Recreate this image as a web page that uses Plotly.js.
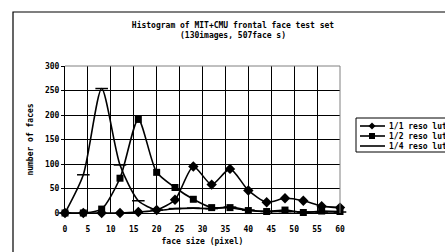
<!DOCTYPE html>
<html><head><meta charset="utf-8">
<script src="https://cdn.plot.ly/plotly-3.0.1.min.js"></script>
<style>html,body{margin:0;padding:0;background:#fff}#c{width:445px;height:252px}</style>
</head><body><div id="c"></div>
<script>
const faceSize = [0,4,8,12,16,20,24,28,32,36,40,44,48,52,56,60];
const res11 = [0,0,0,0,2,6,27,95,58,90,46,22,30,25,14,11];
const res12 = [0,0,8,71,191,83,52,28,11,11,5,3,6,1,4,3];
const res14 = [0,78,254,98,25,6,9,10,9,12,6,3,3,2,2,2];
const seriesNames = ["1/1 reso lution","1/2 reso lution","1/4 reso lution"];
const xTicks = [0,5,10,15,20,25,30,35,40,45,50,55,60];
const yTicks = [0,50,100,150,200,250,300];

const F = "'DejaVu Sans Mono', monospace";
const line = {color:'#000', width:1.6, shape:'spline', smoothing:0.7};
const traces = [
  {x:faceSize, y:res11, name:seriesNames[0], mode:'lines+markers', line:line, cliponaxis:false,
   marker:{symbol:'diamond', size:8, color:'#000'}},
  {x:faceSize, y:res12, name:seriesNames[1], mode:'lines+markers', line:line, cliponaxis:false,
   marker:{symbol:'square', size:7, color:'#000'}},
  {x:faceSize, y:res14, name:seriesNames[2], mode:'lines+markers', line:line, cliponaxis:false,
   marker:{symbol:'line-ew', size:9, color:'#000', line:{color:'#000', width:1.5}}}
];
const pl = 65, pr = 340, pt = 66, pb = 213;
const W = pr-pl, H = pb-pt;
const px = v => (v-pl)/W, py = v => (pb-v)/H;

const shapes = [
  {type:'rect', xref:'paper', yref:'paper', x0:px(13), x1:px(470), y0:py(270), y1:py(12),
   line:{color:'#000', width:1.2}, fillcolor:'rgba(0,0,0,0)', layer:'below'},
  {type:'rect', xref:'paper', yref:'paper', x0:px(356), x1:px(470), y0:py(152), y1:py(118),
   line:{color:'#000', width:1}, fillcolor:'#fff', layer:'above'}
];
const annotations = [];
const legY = [126, 136, 146];
legY.forEach((yy, i) => {
  shapes.push({type:'line', xref:'paper', yref:'paper', x0:px(360), x1:px(385), y0:py(yy), y1:py(yy),
    line:{color:'#000', width:1.6}, layer:'above'});
  if (i === 0) {
    shapes.push({type:'path', xref:'paper', yref:'paper',
      path:`M ${px(372)} ${py(yy-3.5)} L ${px(375.5)} ${py(yy)} L ${px(372)} ${py(yy+3.5)} L ${px(368.5)} ${py(yy)} Z`,
      fillcolor:'#000', line:{color:'#000', width:0}, layer:'above'});
  } else if (i === 1) {
    shapes.push({type:'rect', xref:'paper', yref:'paper', x0:px(369), x1:px(375), y0:py(yy+3), y1:py(yy-3),
      fillcolor:'#000', line:{color:'#000', width:0}, layer:'above'});
  }
  annotations.push({xref:'paper', yref:'paper', x:px(387), y:py(yy), xanchor:'left', yanchor:'middle',
    text:seriesNames[i], showarrow:false, font:{family:F, size:8, color:'#000', weight:'bold'}});
});

const layout = {
  width:445, height:252,
  margin:{l:pl, r:445-pr, t:pt, b:252-pb, pad:0},
  paper_bgcolor:'#fff', plot_bgcolor:'#fff',
  font:{family:F, size:8, color:'#000', weight:'bold'},
  showlegend:false,
  title:{text:'Histogram of MIT+CMU frontal face test set<br>(130images, 507face s)',
    font:{family:F, size:8, color:'#000', weight:'bold'}, x:233/445, xanchor:'center', y:1-28/252, yanchor:'middle'},
  xaxis:{range:[0,60], tickvals:xTicks, ticktext:xTicks.map(String),
    showgrid:true, gridcolor:'#000', gridwidth:1, zeroline:false,
    showline:true, linecolor:'#000', mirror:false, ticks:'', ticklen:0, ticklabelstandoff:8,
    tickfont:{family:F, size:8, weight:'bold'}, title:{text:'face size (pixel)', font:{family:F, size:8, weight:'bold'}, standoff:5}},
  yaxis:{range:[0,300], tickvals:yTicks, showgrid:true, gridcolor:'#000', gridwidth:1, zeroline:false,
    showline:true, linecolor:'#000', mirror:false, ticks:'outside', ticklen:3, tickcolor:'#000',
    tickfont:{family:F, size:8, weight:'bold'}, title:{text:'number of faces', font:{family:F, size:8, weight:'bold'}, standoff:10}},
  shapes:shapes.concat([
    {type:'line', xref:'paper', yref:'paper', x0:0, x1:1, y0:1, y1:1, line:{color:'#808080', width:1}},
    {type:'line', xref:'paper', yref:'paper', x0:1, x1:1, y0:0, y1:1, line:{color:'#808080', width:1}}
  ]),
  annotations:annotations
};
Plotly.newPlot('c', traces, layout, {staticPlot:true});
</script></body></html>
